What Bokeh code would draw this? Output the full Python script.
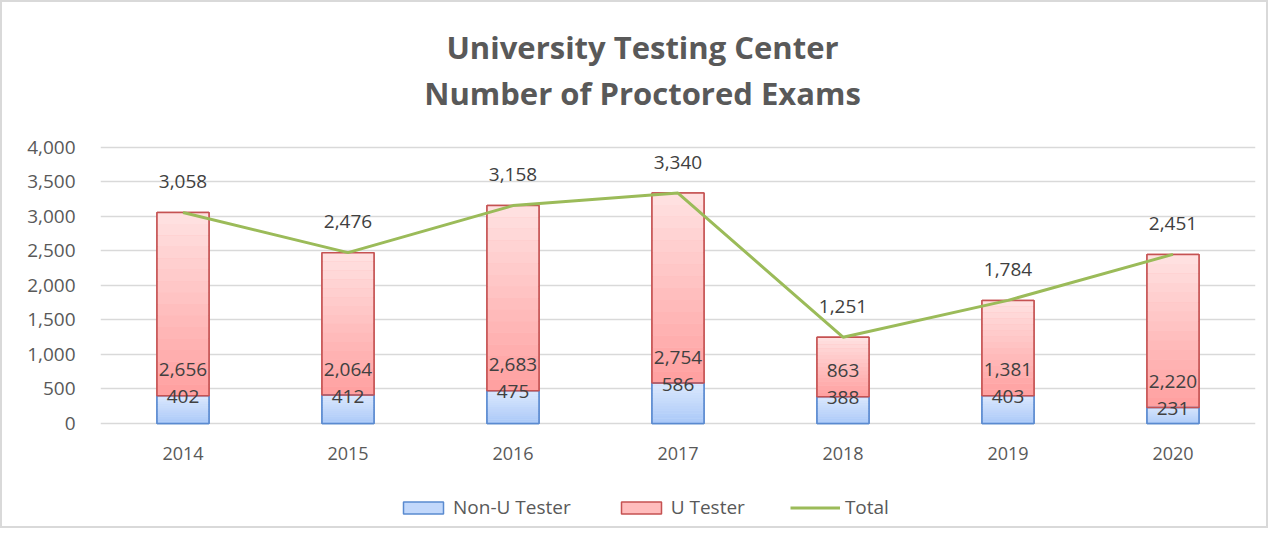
from bokeh.plotting import figure
from bokeh.models import (FactorRange, Legend, LegendItem, Label, NumeralTickFormatter,
                          ColumnDataSource, Range1d)
from bokeh.core.properties import value
from bokeh.embed import file_html
from bokeh.resources import INLINE

years = ["2014", "2015", "2016", "2017", "2018", "2019", "2020"]
non_u = [402, 412, 475, 586, 388, 403, 231]
u_tester = [2656, 2064, 2683, 2754, 863, 1381, 2220]
total = [3058, 2476, 3158, 3340, 1251, 1784, 2451]
title_lines = ["University Testing Center", "Number of Proctored Exams"]

FONT = "Open Sans"
TXT = "#595959"
LBL = "#404040"
BAR_W = 0.315

src = ColumnDataSource(dict(
    years=years, non_u=non_u, u_tester=u_tester, total=total,
    zero=[0] * len(years),
    year_lbl=years,
    non_u_lbl=[f"{v:,}" for v in non_u],
    u_lbl=[f"{v:,}" for v in u_tester],
    tot_lbl=[f"{v:,}" for v in total],
))

# the frame reaches above 4,000 and below 0 so title and legend can sit inside it
p = figure(x_range=FactorRange(*years), y_range=Range1d(-1434.8, 5985.5),
           width=1268, height=528, output_backend="svg", toolbar_location=None,
           x_axis_location=None,
           min_border_left=98, min_border_right=15, min_border_top=8, min_border_bottom=8)
p.styles = {"border": "2px solid #d9d9d9"}

# base bars (solid, used by the legend)
r_bars = p.vbar_stack(["non_u", "u_tester"], x="years", width=BAR_W, source=src,
                      fill_color=["#c2d8fb", "#ffbdbd"],
                      line_color=["#5a8ad0", "#c55252"], line_width=1.5)


def hex2rgb(h):
    return tuple(int(h[i:i + 2], 16) for i in (1, 3, 5))


def mix(c1, c2, t):
    a, b = hex2rgb(c1), hex2rgb(c2)
    return "#%02x%02x%02x" % tuple(round(a[i] + (b[i] - a[i]) * t) for i in range(3))


# gradient overlay: light at the top of each segment, deeper at its base
N = 16
segments = [
    ([0] * len(years), non_u, "#a9c8f8", "#dde9fd"),
    (non_u, [a + b for a, b in zip(non_u, u_tester)], "#ff9f9f", "#ffe2e2"),
]
for base, top, c_bot, c_top in segments:
    for k in range(N):
        b_k = [lo + (hi - lo) * k / N for lo, hi in zip(base, top)]
        t_k = [lo + (hi - lo) * (k + 1) / N for lo, hi in zip(base, top)]
        p.vbar(x=years, bottom=b_k, top=t_k, width=BAR_W,
               fill_color=mix(c_bot, c_top, (k + 0.5) / N), line_color=None)

# outlines on top
p.vbar_stack(["non_u", "u_tester"], x="years", width=BAR_W, source=src,
             fill_color=None, line_color=["#5a8ad0", "#c55252"], line_width=1.5)

r_line = p.line(x="years", y="total", source=src, line_color="#9bbb59", line_width=3)

p.text(x="years", y="non_u", text="non_u_lbl", source=src, text_align="center",
       text_baseline="middle", y_offset=1, text_font=value(FONT), text_font_size="19px",
       text_color=LBL)
p.text(x="years", y="non_u", text="u_lbl", source=src, text_align="center",
       text_baseline="middle", y_offset=-26, text_font=value(FONT), text_font_size="19px",
       text_color=LBL)
p.text(x="years", y="total", text="tot_lbl", source=src, text_align="center",
       text_baseline="middle", y_offset=-31, text_font=value(FONT), text_font_size="19px",
       text_color=LBL)
# category labels under the zero line
p.text(x="years", y="zero", text="year_lbl", source=src, text_align="center",
       text_baseline="middle", y_offset=30, text_font=value(FONT), text_font_size="18px",
       text_color=TXT)

# two-line title, centred on the whole chart (screen units relative to the frame)
for line_txt, sy in zip(title_lines, [476, 430]):
    p.add_layout(Label(x=542, y=sy, x_units="screen", y_units="screen", text=line_txt,
                       text_align="center", text_baseline="middle", text_font=FONT,
                       text_font_size="31px", text_color=TXT, text_font_style="bold"))

p.title = None
p.outline_line_color = None
p.background_fill_color = "white"
p.xgrid.grid_line_color = None
p.ygrid.grid_line_color = "#d9d9d9"
p.ygrid.grid_line_width = 1.5
p.yaxis.ticker = [0, 500, 1000, 1500, 2000, 2500, 3000, 3500, 4000]
p.ygrid.ticker = [0, 500, 1000, 1500, 2000, 2500, 3000, 3500, 4000]
p.yaxis.formatter = NumeralTickFormatter(format="0,0")
p.yaxis.axis_line_color = None
p.yaxis.major_tick_line_color = None
p.yaxis.minor_tick_line_color = None
p.yaxis.major_label_text_font = FONT
p.yaxis.major_label_text_font_size = "19px"
p.yaxis.major_label_text_color = TXT
p.yaxis.major_label_standoff = 19
p.x_range.range_padding = 0
p.x_range.group_padding = 0

legend = Legend(items=[
    LegendItem(label="Non-U Tester", renderers=[r_bars[0]]),
    LegendItem(label="U Tester", renderers=[r_bars[1]]),
    LegendItem(label="Total", renderers=[r_line]),
], orientation="horizontal", location=(298, 2), border_line_color=None,
   background_fill_alpha=0, glyph_width=50, glyph_height=15, spacing=45,
   label_text_font=FONT, label_text_font_size="19px", label_text_color=TXT,
   label_standoff=5, margin=0, padding=0)
p.add_layout(legend)

open("out.html", "w").write(file_html(p, INLINE))
